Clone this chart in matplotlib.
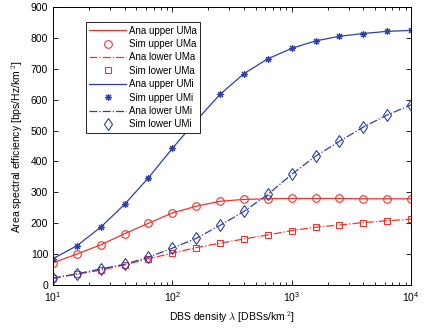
import numpy as np
import matplotlib.pyplot as plt
from matplotlib.ticker import LogLocator, NullFormatter

plt.rcParams['font.family'] = ['Liberation Sans', 'DejaVu Sans']
plt.rcParams['mathtext.fontset'] = 'cm'

# DBS density (16 points, 5 per decade)
density = [10, 15.85, 25.12, 39.81, 63.1, 100, 158.5, 251.2, 398.1, 631,
           1000, 1585, 2512, 3981, 6310, 10000]

upper_uma = [72, 100, 130, 166, 200, 233, 255, 271, 277, 279,
             280, 280, 280, 279, 279, 279]
lower_uma = [22, 35, 48, 65, 85, 103, 121, 135, 149, 162,
             176, 187, 194, 202, 208, 213]
upper_umi = [85, 127, 187, 261, 347, 442, 532, 617, 684, 732,
             766, 790, 805, 814, 821, 824]
lower_umi = [22, 36, 52, 67, 90, 119, 151, 193, 238, 293,
             358, 417, 465, 511, 550, 583]

red = '#E8372E'
blue = '#2E3FA8'

fig = plt.figure(figsize=(4.29, 3.31), dpi=100)
ax = fig.add_axes([0.1235, 0.139, 0.8345, 0.84])

ax.plot(density, upper_uma, '-', color=red, lw=0.9, label='Ana upper UMa')
ax.plot(density, upper_uma, 'o', color=red, mfc='none', ms=5.5, mew=0.8,
        label='Sim upper UMa')
ax.plot(density, lower_uma, '-.', color=red, lw=0.9, label='Ana lower UMa')
ax.plot(density, lower_uma, 's', color=red, mfc='none', ms=4, mew=0.8,
        label='Sim lower UMa')
ax.plot(density, upper_umi, '-', color=blue, lw=0.9, label='Ana upper UMi')
ax.plot(density, upper_umi, marker=(8, 2, 0), ls='none', color=blue, ms=5,
        mew=0.8, label='Sim upper UMi')
ax.plot(density, lower_umi, '-.', color=blue, lw=0.9, label='Ana lower UMi')
ax.plot(density, lower_umi, 'd', color=blue, mfc='none', ms=6, mew=0.8,
        label='Sim lower UMi')

ax.set_xscale('log')
ax.set_xlim(10, 10000)
ax.set_ylim(0, 900)
ax.set_yticks(range(0, 901, 100))
ax.xaxis.set_minor_locator(LogLocator(base=10, subs=np.arange(2, 10)))
ax.xaxis.set_minor_formatter(NullFormatter())
ax.tick_params(which='both', direction='in', top=True, right=True,
               labelsize=7.5, width=0.6)
ax.tick_params(which='major', length=3.5)
ax.tick_params(which='minor', length=2)
for s in ax.spines.values():
    s.set_linewidth(0.7)

ax.set_xlabel(r'DBS density $\lambda$ [DBSs/km$^{\ 2}$]', fontsize=7.5)
ax.set_ylabel(r'Area spectral efficiency [bps/Hz/km$^{\ 2}$]', fontsize=7.5)

leg = ax.legend(loc='upper left', bbox_to_anchor=(0.092, 0.945), fontsize=7,
                handlelength=3.8, handletextpad=0.3, labelspacing=0.35,
                borderpad=0.35, borderaxespad=0, fancybox=False, framealpha=1)
leg.get_frame().set_edgecolor('black')
leg.get_frame().set_linewidth(0.6)

fig.savefig('out.png', dpi=100)
